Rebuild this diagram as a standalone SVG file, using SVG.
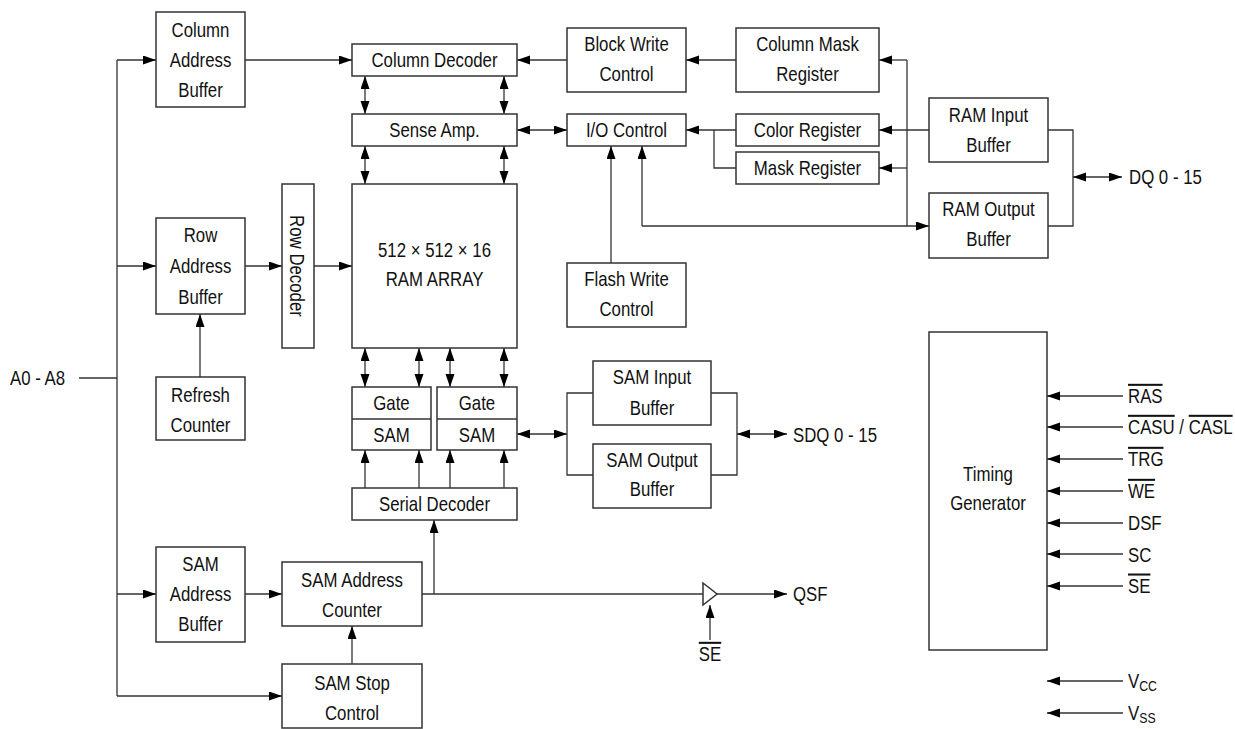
<svg xmlns="http://www.w3.org/2000/svg" width="1235" height="729" viewBox="0 0 1235 729">
<style>
.box{fill:#fff;stroke:#333;stroke-width:1.5}
.ln{fill:none;stroke:#333;stroke-width:1.3}
.ar{marker-end:url(#ah)}
.da{marker-end:url(#ah);marker-start:url(#as)}
text{font-family:"Liberation Sans",Arial,sans-serif;font-size:20.5px;fill:#111;text-anchor:middle}
.l{text-anchor:start}
.ov{text-decoration:overline}
</style>
<defs>
<marker id="ah" markerUnits="userSpaceOnUse" markerWidth="13" markerHeight="10" refX="13" refY="4.5" orient="auto"><path d="M0,0 L13,4.5 L0,9 z" fill="#000"/></marker>
<marker id="as" markerUnits="userSpaceOnUse" markerWidth="13" markerHeight="10" refX="13" refY="4.5" orient="auto-start-reverse"><path d="M0,0 L13,4.5 L0,9 z" fill="#000"/></marker>
</defs>
<rect width="1235" height="729" fill="#fff"/>

<g id="connectors">
<text class="l" transform="matrix(0.82,0,0,1,10,0)" y="385.5">A0 - A8</text>
<path class="ln" d="M79,378 H117 M117,60 V696"/>
<path class="ln ar" d="M117,60 H156"/>
<path class="ln ar" d="M117,266 H156"/>
<path class="ln ar" d="M117,594 H156"/>
<path class="ln ar" d="M117,696 H282"/>
<path class="ln ar" d="M245,60 H352"/>
<path class="ln ar" d="M567,60 H517"/>
<path class="ln ar" d="M736,60 H686"/>
<path class="ln" d="M907,60 V226"/>
<path class="ln ar" d="M907,60 H879"/>
<path class="ln ar" d="M907,168 H879"/>
<path class="ln ar" d="M929,130 H879"/>
<path class="ln ar" d="M736,130 H686"/>
<path class="ln" d="M714,130 V168 H736"/>
<path class="ln da" d="M517,130 H567"/>
<path class="ln da" d="M365,76 V114"/>
<path class="ln da" d="M504,76 V114"/>
<path class="ln da" d="M365,146 V184"/>
<path class="ln da" d="M504,146 V184"/>
<path class="ln ar" d="M611,263 V146"/>
<path class="ln ar" d="M642,226 V146"/>
<path class="ln ar" d="M642,226 H929"/>
<path class="ln" d="M1048,130 H1073 V226 H1048"/>
<path class="ln da" d="M1073,177 H1122"/>
<text class="l" transform="matrix(0.82,0,0,1,1129,0)" y="184.5">DQ 0 - 15</text>
<path class="ln ar" d="M245,266 H282"/>
<path class="ln ar" d="M314,266 H352"/>
<path class="ln ar" d="M200,377 V314"/>
<path class="ln da" d="M365,348 V387"/>
<path class="ln da" d="M419,348 V387"/>
<path class="ln da" d="M450,348 V387"/>
<path class="ln da" d="M504,348 V387"/>
<path class="ln ar" d="M365,488 V450"/>
<path class="ln ar" d="M419,488 V450"/>
<path class="ln ar" d="M450,488 V450"/>
<path class="ln ar" d="M504,488 V450"/>
<path class="ln da" d="M517,434 H567"/>
<path class="ln" d="M593,393 H567 V475 H593"/>
<path class="ln" d="M711,393 H737 V475 H711"/>
<path class="ln da" d="M737,434 H787"/>
<text class="l" transform="matrix(0.82,0,0,1,793,0)" y="441.8">SDQ 0 - 15</text>
<path class="ln ar" d="M245,594 H282"/>
<path class="ln ar" d="M352,664 V626"/>
<path class="ln" d="M422,594 H703"/>
<path class="ln ar" d="M434,594 V520"/>
<path class="ln ar" d="M717,594 H787"/>
<text class="l" transform="matrix(0.82,0,0,1,793,0)" y="601.5">QSF</text>
<path class="ln ar" d="M710,640 V605"/>
<text class="ov" transform="matrix(0.82,0,0,1,710,0)" y="661.5">SE</text>
<path class="ln ar" d="M1123,396 H1047"/>
<path class="ln ar" d="M1123,427 H1047"/>
<path class="ln ar" d="M1123,459 H1047"/>
<path class="ln ar" d="M1123,491 H1047"/>
<path class="ln ar" d="M1123,523 H1047"/>
<path class="ln ar" d="M1123,554 H1047"/>
<path class="ln ar" d="M1123,586 H1047"/>
<path class="ln ar" d="M1123,681 H1047"/>
<path class="ln ar" d="M1123,713 H1047"/>
<text class="l" transform="matrix(0.82,0,0,1,1128,0)" y="403.5"><tspan class="ov">RAS</tspan></text>
<text class="l" transform="matrix(0.82,0,0,1,1128,0)" y="434.5"><tspan class="ov">CASU</tspan> / <tspan class="ov">CASL</tspan></text>
<text class="l" transform="matrix(0.82,0,0,1,1128,0)" y="466.5"><tspan class="ov">TRG</tspan></text>
<text class="l" transform="matrix(0.82,0,0,1,1128,0)" y="498.5"><tspan class="ov">WE</tspan></text>
<text class="l" transform="matrix(0.82,0,0,1,1128,0)" y="530.2">DSF</text>
<text class="l" transform="matrix(0.82,0,0,1,1128,0)" y="561.8">SC</text>
<text class="l" transform="matrix(0.82,0,0,1,1128,0)" y="593.2"><tspan class="ov">SE</tspan></text>
<text class="l" transform="matrix(0.82,0,0,1,1128,0)" y="688.5">V<tspan font-size="15" dy="3">CC</tspan></text>
<text class="l" transform="matrix(0.82,0,0,1,1128,0)" y="720">V<tspan font-size="15" dy="3">SS</tspan></text>
</g>

<g id="col-addr-buf"><rect class="box" x="156" y="12" width="89" height="95"/><text transform="matrix(0.82,0,0,1,200.5,0)" y="37.5">Column</text><text transform="matrix(0.82,0,0,1,200.5,0)" y="67.5">Address</text><text transform="matrix(0.82,0,0,1,200.5,0)" y="97.5">Buffer</text></g>
<g id="col-decoder"><rect class="box" x="352" y="44" width="165" height="32"/><text transform="matrix(0.82,0,0,1,434.5,0)" y="67.5">Column Decoder</text></g>
<g id="block-write"><rect class="box" x="567" y="28" width="119" height="64"/><text transform="matrix(0.82,0,0,1,626.5,0)" y="50.8">Block Write</text><text transform="matrix(0.82,0,0,1,626.5,0)" y="80.8">Control</text></g>
<g id="col-mask"><rect class="box" x="736" y="28" width="143" height="64"/><text transform="matrix(0.82,0,0,1,807.5,0)" y="50.8">Column Mask</text><text transform="matrix(0.82,0,0,1,807.5,0)" y="80.8">Register</text></g>
<g id="sense-amp"><rect class="box" x="352" y="114" width="165" height="32"/><text transform="matrix(0.82,0,0,1,434.5,0)" y="137.5">Sense Amp.</text></g>
<g id="io-control"><rect class="box" x="567" y="114" width="119" height="32"/><text transform="matrix(0.82,0,0,1,626.5,0)" y="137.5">I/O Control</text></g>
<g id="color-reg"><rect class="box" x="736" y="114" width="143" height="32"/><text transform="matrix(0.82,0,0,1,807.5,0)" y="137.5">Color Register</text></g>
<g id="mask-reg"><rect class="box" x="736" y="152" width="143" height="32"/><text transform="matrix(0.82,0,0,1,807.5,0)" y="175.5">Mask Register</text></g>
<g id="ram-in"><rect class="box" x="929" y="98" width="119" height="64"/><text transform="matrix(0.82,0,0,1,988.5,0)" y="121.8">RAM Input</text><text transform="matrix(0.82,0,0,1,988.5,0)" y="151.8">Buffer</text></g>
<g id="ram-out"><rect class="box" x="929" y="193" width="119" height="65"/><text transform="matrix(0.82,0,0,1,988.5,0)" y="216.5">RAM Output</text><text transform="matrix(0.82,0,0,1,988.5,0)" y="245.8">Buffer</text></g>
<g id="row-addr-buf"><rect class="box" x="156" y="218" width="89" height="96"/><text transform="matrix(0.82,0,0,1,200.5,0)" y="242.5">Row</text><text transform="matrix(0.82,0,0,1,200.5,0)" y="273.5">Address</text><text transform="matrix(0.82,0,0,1,200.5,0)" y="304.2">Buffer</text></g>
<g id="row-decoder"><rect class="box" x="282" y="184" width="32" height="164"/><text transform="translate(298,266) rotate(90) scale(0.82,1)" x="0" y="7.5">Row Decoder</text></g>
<g id="ram-array"><rect class="box" x="352" y="184" width="165" height="164"/><text transform="matrix(0.82,0,0,1,434.5,0)" y="256.8">512 × 512 × 16</text><text transform="matrix(0.82,0,0,1,434.5,0)" y="286.5">RAM ARRAY</text></g>
<g id="refresh"><rect class="box" x="156" y="377" width="89" height="63"/><text transform="matrix(0.82,0,0,1,200.5,0)" y="402.5">Refresh</text><text transform="matrix(0.82,0,0,1,200.5,0)" y="432.5">Counter</text></g>
<g id="flash-write"><rect class="box" x="567" y="263" width="119" height="64"/><text transform="matrix(0.82,0,0,1,626.5,0)" y="285.8">Flash Write</text><text transform="matrix(0.82,0,0,1,626.5,0)" y="315.8">Control</text></g>
<g id="gate-sam-1"><rect class="box" x="352" y="387" width="79" height="63"/><path class="ln" d="M352,419 H431"/><text transform="matrix(0.82,0,0,1,391.5,0)" y="409.8">Gate</text><text transform="matrix(0.82,0,0,1,391.5,0)" y="441.8">SAM</text></g>
<g id="gate-sam-2"><rect class="box" x="437" y="387" width="80" height="63"/><path class="ln" d="M437,419 H517"/><text transform="matrix(0.82,0,0,1,477,0)" y="409.8">Gate</text><text transform="matrix(0.82,0,0,1,477,0)" y="441.8">SAM</text></g>
<g id="sam-in"><rect class="box" x="593" y="361" width="118" height="64"/><text transform="matrix(0.82,0,0,1,652,0)" y="384.2">SAM Input</text><text transform="matrix(0.82,0,0,1,652,0)" y="415.2">Buffer</text></g>
<g id="sam-out"><rect class="box" x="593" y="444" width="118" height="64"/><text transform="matrix(0.82,0,0,1,652,0)" y="466.8">SAM Output</text><text transform="matrix(0.82,0,0,1,652,0)" y="495.8">Buffer</text></g>
<g id="serial-decoder"><rect class="box" x="352" y="488" width="165" height="32"/><text transform="matrix(0.82,0,0,1,434.5,0)" y="511.5">Serial Decoder</text></g>
<g id="sam-addr-buf"><rect class="box" x="156" y="547" width="89" height="95"/><text transform="matrix(0.82,0,0,1,200.5,0)" y="571.5">SAM</text><text transform="matrix(0.82,0,0,1,200.5,0)" y="601.5">Address</text><text transform="matrix(0.82,0,0,1,200.5,0)" y="631.5">Buffer</text></g>
<g id="sam-addr-counter"><rect class="box" x="282" y="562" width="140" height="64"/><text transform="matrix(0.82,0,0,1,352,0)" y="587.5">SAM Address</text><text transform="matrix(0.82,0,0,1,352,0)" y="617.5">Counter</text></g>
<g id="sam-stop"><rect class="box" x="282" y="664" width="140" height="64"/><text transform="matrix(0.82,0,0,1,352,0)" y="689.8">SAM Stop</text><text transform="matrix(0.82,0,0,1,352,0)" y="719.8">Control</text></g>
<g id="timing-gen"><rect class="box" x="929" y="332" width="118" height="318"/><text transform="matrix(0.82,0,0,1,988,0)" y="480.8">Timing</text><text transform="matrix(0.82,0,0,1,988,0)" y="510.2">Generator</text></g>
<g id="qsf-buffer"><path class="box" d="M703,583 L717,594 L703,605 z"/></g>
</svg>
